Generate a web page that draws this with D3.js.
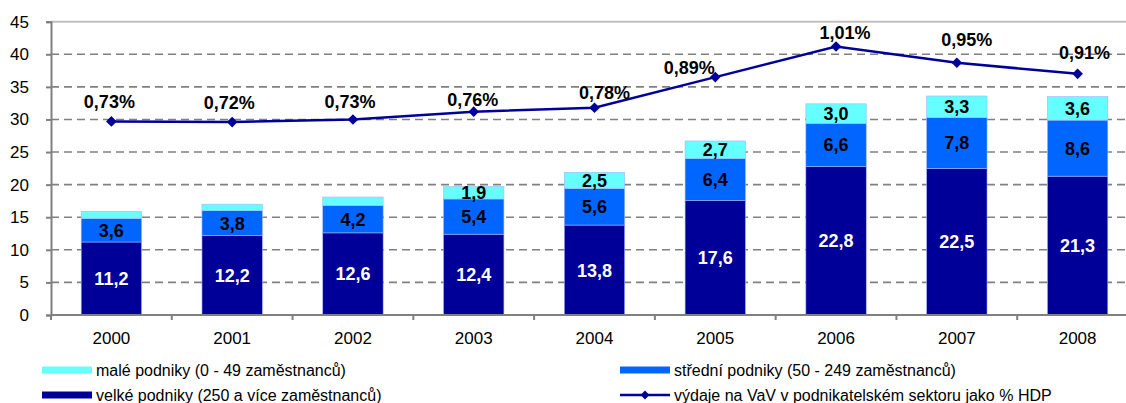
<!DOCTYPE html>
<html>
<head>
<meta charset="utf-8">
<script src="https://cdn.jsdelivr.net/npm/d3@7/dist/d3.min.js"></script>
<style>
  body { margin: 0; background: #fff; }
  svg { display: block; font-family: 'Liberation Sans', Arial, sans-serif; }
</style>
</head>
<body>
<div id="chart"></div>
<script>
// data
var years = ['2000', '2001', '2002', '2003', '2004', '2005', '2006', '2007', '2008'];
var velke = [11.2, 12.2, 12.6, 12.4, 13.8, 17.6, 22.8, 22.5, 21.3];
var stredni = [3.6, 3.8, 4.2, 5.4, 5.6, 6.4, 6.6, 7.8, 8.6];
var male = [1.1, 1.0, 1.3, 1.9, 2.5, 2.7, 3.0, 3.3, 3.6];
var maleShown = [false, false, false, true, true, true, true, true, true];
var vydaje = [29.7, 29.6, 30.0, 31.2, 31.8, 36.5, 41.2, 38.7, 37.0];
var vydajeLabels = ['0,73%', '0,72%', '0,73%', '0,76%', '0,78%', '0,89%', '1,01%', '0,95%', '0,91%'];
var yTicks = [0, 5, 10, 15, 20, 25, 30, 35, 40, 45];
var legendNames = [
  'malé podniky (0 - 49 zaměstnanců)',
  'střední podniky (50 - 249 zaměstnanců)',
  'velké podniky (250 a více zaměstnanců)',
  'výdaje na VaV v podnikatelském sektoru jako % HDP'
];

var colors = { male: '#66ffff', stredni: '#0066ff', velke: '#000099', line: '#000099' };

var W = 1126, H = 403;
var margin = { left: 51, right: 1138, top: 21.7, bottom: 315 };

var svg = d3.select('#chart').append('svg')
    .attr('width', W)
    .attr('height', H);

// scales
var x = d3.scaleBand().domain(years).range([margin.left, margin.right])
    .paddingInner(0.5).paddingOuter(0.25);
var y = d3.scaleLinear().domain([0, 45]).range([margin.bottom, margin.top]);

// dashed gridlines
svg.append('g').selectAll('line')
    .data(yTicks.filter(function(d) { return d > 0 && d < 45; }))
  .enter().append('line')
    .attr('x1', margin.left).attr('x2', W)
    .attr('y1', function(d) { return y(d); })
    .attr('y2', function(d) { return y(d); })
    .attr('stroke', '#808080')
    .attr('stroke-width', 1.6)
    .attr('stroke-dasharray', '8,5');

// top border of plot
svg.append('line')
    .attr('x1', margin.left).attr('x2', W)
    .attr('y1', y(45)).attr('y2', y(45))
    .attr('stroke', '#c0c0c0').attr('stroke-width', 2);

// stacked bars
var stack = years.map(function(yr, i) {
  return { year: yr, segs: [
    { key: 'velke', y0: 0, y1: velke[i], v: velke[i], show: true },
    { key: 'stredni', y0: velke[i], y1: velke[i] + stredni[i], v: stredni[i], show: true },
    { key: 'male', y0: velke[i] + stredni[i], y1: velke[i] + stredni[i] + male[i], v: male[i], show: maleShown[i] }
  ]};
});

var groups = svg.append('g').selectAll('g')
    .data(stack)
  .enter().append('g');

groups.selectAll('rect')
    .data(function(d) { return d.segs.map(function(s) { s.year = d.year; return s; }); })
  .enter().append('rect')
    .attr('x', function(d) { return x(d.year); })
    .attr('width', x.bandwidth())
    .attr('y', function(d) { return y(d.y1); })
    .attr('height', function(d) { return y(d.y0) - y(d.y1); })
    .attr('fill', function(d) { return colors[d.key]; })
    .attr('stroke', '#9fb4ff')
    .attr('stroke-width', 0.6);

groups.selectAll('text')
    .data(function(d) { return d.segs.filter(function(s) { return s.show; }); })
  .enter().append('text')
    .attr('x', function(d) { return x(d.year) + x.bandwidth() / 2; })
    .attr('y', function(d) { return y((d.y0 + d.y1) / 2); })
    .attr('dy', '0.36em')
    .attr('text-anchor', 'middle')
    .attr('font-size', '18px')
    .attr('font-weight', 'bold')
    .attr('fill', function(d) { return d.key === 'velke' ? '#fff' : '#000'; })
    .text(function(d) { return d3.format('.1f')(d.v).replace('.', ','); });

// y axis
var yAxis = d3.axisLeft(y).tickValues(yTicks).tickSize(5).tickPadding(17);
var gy = svg.append('g')
    .attr('transform', 'translate(' + margin.left + ',0)')
    .call(yAxis);
gy.select('.domain').attr('stroke', '#808080').attr('stroke-width', 2);
gy.selectAll('.tick line').attr('stroke', '#808080').attr('stroke-width', 2);
gy.selectAll('text').attr('font-size', '17px').attr('fill', '#000')
    .attr('font-family', "'Liberation Sans', Arial, sans-serif");

// x axis: labels centred, ticks at category boundaries
var xAxis = d3.axisBottom(x).tickSize(0).tickPadding(17);
var gx = svg.append('g')
    .attr('transform', 'translate(0,' + margin.bottom + ')')
    .call(xAxis);
gx.select('.domain').remove();
gx.selectAll('text').attr('font-size', '17px').attr('fill', '#000')
    .attr('font-family', "'Liberation Sans', Arial, sans-serif");

svg.append('line')
    .attr('x1', margin.left).attr('x2', W)
    .attr('y1', margin.bottom).attr('y2', margin.bottom)
    .attr('stroke', '#808080').attr('stroke-width', 2);

svg.append('g').selectAll('line')
    .data(years)
  .enter().append('line')
    .attr('x1', function(d) { return x(d) - x.step() / 4; })
    .attr('x2', function(d) { return x(d) - x.step() / 4; })
    .attr('y1', margin.bottom).attr('y2', margin.bottom + 5)
    .attr('stroke', '#808080').attr('stroke-width', 2);

// line series
var cx = function(d, i) { return x(years[i]) + x.bandwidth() / 2; };
var line = d3.line()
    .x(cx)
    .y(function(d) { return y(d); });

svg.append('path')
    .datum(vydaje)
    .attr('d', line)
    .attr('fill', 'none')
    .attr('stroke', colors.line)
    .attr('stroke-width', 2.5);

var diamond = d3.symbol().type(d3.symbolDiamond2).size(72);
svg.append('g').selectAll('path')
    .data(vydaje)
  .enter().append('path')
    .attr('d', diamond)
    .attr('transform', function(d, i) { return 'translate(' + cx(d, i) + ',' + y(d) + ')'; })
    .attr('fill', colors.line);

// label nudges as placed in the original
var nudge = [[-2, -20], [-3, -20], [-3, -18], [-1, -12], [10, -15], [-26, -10], [9, -14], [10, -23], [7, -21]];
svg.append('g').selectAll('text')
    .data(vydajeLabels)
  .enter().append('text')
    .attr('x', function(d, i) { return cx(d, i) + nudge[i][0]; })
    .attr('y', function(d, i) { return y(vydaje[i]) + nudge[i][1]; })
    .attr('dy', '0.36em')
    .attr('text-anchor', 'middle')
    .attr('font-size', '18px')
    .attr('font-weight', 'bold')
    .attr('fill', '#000')
    .text(function(d) { return d; });

// legend
var legendPos = [[42, 370], [620, 370], [42, 395], [620, 395]];
var leg = svg.append('g').selectAll('g')
    .data(legendNames)
  .enter().append('g')
    .attr('transform', function(d, i) { return 'translate(' + legendPos[i][0] + ',' + legendPos[i][1] + ')'; });

leg.each(function(d, i) {
  var g = d3.select(this);
  if (i < 3) {
    var c = [colors.male, colors.stredni, colors.velke][i];
    g.append('rect').attr('x', 0).attr('y', -3.5).attr('width', 50).attr('height', 7).attr('fill', c);
  } else {
    g.append('line').attr('x1', 0).attr('x2', 50).attr('y1', 0).attr('y2', 0)
      .attr('stroke', colors.line).attr('stroke-width', 2.5);
    g.append('path').attr('d', d3.symbol().type(d3.symbolDiamond2).size(50)()).attr('transform', 'translate(25,0)').attr('fill', colors.line);
  }
  g.append('text')
    .attr('x', 54)
    .attr('y', 0)
    .attr('dy', '0.36em')
    .attr('font-size', '16px')
    .attr('fill', '#000')
    .text(d);
});
</script>
</body>
</html>
